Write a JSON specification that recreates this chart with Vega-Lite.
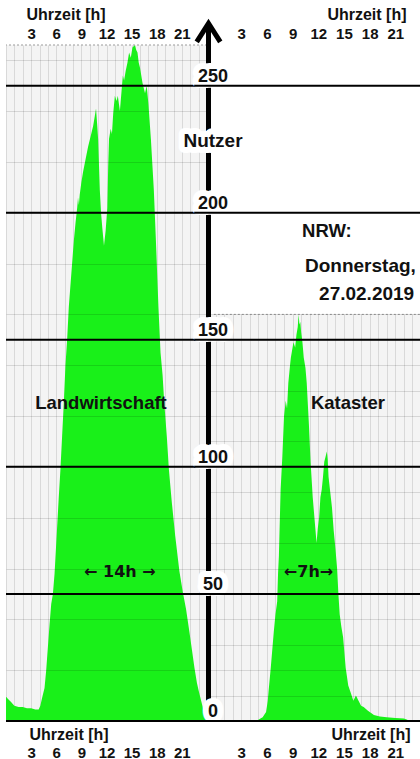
{
  "$schema": "https://vega.github.io/schema/vega-lite/v6.json",
  "background": "white",
  "padding": {"left": 5, "top": 6, "right": 0, "bottom": 0},
  "spacing": 0,
  "bounds": "flush",
  "config": {
    "font": "Liberation Sans",
    "view": {"stroke": null},
    "axis": {
      "domain": false, "ticks": false, "minExtent": 0,
      "labelFontSize": 15, "labelFontWeight": "bold", "labelColor": "#111",
      "titleFontSize": 16, "titleFontWeight": "bold", "titleColor": "#111",
      "labelOverlap": false, "labelFlush": false
    }
  },
  "datasets": {
    "lw": [
      {"h":0,"v":9.5},{"h":0.3,"v":8.5},{"h":0.6,"v":7.5},{"h":1,"v":6},{"h":1.5,"v":5.5},{"h":2,"v":5.5},{"h":2.5,"v":5},{"h":3,"v":5},{"h":3.5,"v":4.5},{"h":3.9,"v":4.5},{"h":4.1,"v":6},{"h":4.3,"v":9},{"h":4.6,"v":13},{"h":4.8,"v":20},{"h":5,"v":29},{"h":5.2,"v":38},{"h":5.4,"v":46},{"h":5.6,"v":50},{"h":5.8,"v":58},{"h":6,"v":70},{"h":6.3,"v":88},{"h":6.5,"v":99},{"h":6.7,"v":112},{"h":6.9,"v":125},{"h":7.1,"v":140},{"h":7.3,"v":150},{"h":7.5,"v":163},{"h":7.8,"v":176},{"h":8.1,"v":189},{"h":8.3,"v":196},{"h":8.5,"v":202},{"h":8.6,"v":206},{"h":8.7,"v":203},{"h":8.8,"v":207},{"h":9,"v":212},{"h":9.2,"v":216},{"h":9.5,"v":221},{"h":9.8,"v":226},{"h":10.1,"v":230},{"h":10.4,"v":234},{"h":10.6,"v":238},{"h":10.75,"v":241},{"h":10.9,"v":234},{"h":11,"v":229},{"h":11.2,"v":209},{"h":11.35,"v":200},{"h":11.5,"v":194},{"h":11.7,"v":187},{"h":11.9,"v":193},{"h":12.1,"v":202},{"h":12.2,"v":218},{"h":12.3,"v":229},{"h":12.5,"v":233},{"h":12.65,"v":231},{"h":12.8,"v":239},{"h":13,"v":246},{"h":13.2,"v":244},{"h":13.35,"v":246},{"h":13.6,"v":240},{"h":13.8,"v":248},{"h":13.95,"v":254},{"h":14.1,"v":252},{"h":14.3,"v":256},{"h":14.5,"v":259},{"h":14.7,"v":263},{"h":14.9,"v":261},{"h":15.1,"v":265},{"h":15.4,"v":266},{"h":15.55,"v":264},{"h":15.7,"v":263},{"h":15.85,"v":259},{"h":16,"v":257},{"h":16.3,"v":251},{"h":16.6,"v":247},{"h":16.8,"v":250},{"h":17,"v":243},{"h":17.3,"v":229},{"h":17.65,"v":209},{"h":17.9,"v":189},{"h":18.2,"v":163},{"h":18.45,"v":145},{"h":18.7,"v":136},{"h":18.9,"v":125},{"h":19.2,"v":112},{"h":19.45,"v":99},{"h":19.8,"v":86},{"h":20.2,"v":73},{"h":20.7,"v":59},{"h":21.1,"v":51},{"h":21.5,"v":44},{"h":21.9,"v":35},{"h":22.2,"v":28},{"h":22.5,"v":21},{"h":22.8,"v":15},{"h":23,"v":12},{"h":23.3,"v":8},{"h":23.6,"v":4},{"h":24,"v":0}
    ],
    "ka": [
      {"h":4.8,"v":0},{"h":5,"v":0.5},{"h":5.5,"v":1.5},{"h":5.9,"v":3.5},{"h":6.1,"v":8},{"h":6.2,"v":12},{"h":6.45,"v":21},{"h":6.8,"v":35},{"h":7,"v":42},{"h":7.2,"v":47},{"h":7.3,"v":58},{"h":7.4,"v":65},{"h":7.6,"v":91},{"h":7.8,"v":104},{"h":8,"v":120},{"h":8.2,"v":126},{"h":8.35,"v":123},{"h":8.5,"v":133},{"h":8.7,"v":140},{"h":8.8,"v":143},{"h":9.1,"v":149},{"h":9.3,"v":147},{"h":9.45,"v":152},{"h":9.6,"v":155},{"h":9.7,"v":160},{"h":9.8,"v":156},{"h":9.9,"v":157},{"h":10,"v":153},{"h":10.15,"v":149},{"h":10.3,"v":143},{"h":10.5,"v":139},{"h":10.65,"v":133},{"h":10.9,"v":117},{"h":11.1,"v":102},{"h":11.35,"v":88},{"h":11.6,"v":78},{"h":11.8,"v":70},{"h":11.95,"v":76},{"h":12.1,"v":80},{"h":12.25,"v":88},{"h":12.4,"v":91},{"h":12.55,"v":96},{"h":12.7,"v":102},{"h":12.85,"v":104},{"h":13,"v":106},{"h":13.1,"v":103},{"h":13.2,"v":96},{"h":13.4,"v":90},{"h":13.6,"v":84},{"h":13.8,"v":75},{"h":14,"v":68},{"h":14.2,"v":60},{"h":14.35,"v":50},{"h":14.5,"v":42},{"h":14.7,"v":37},{"h":14.9,"v":33},{"h":15.05,"v":27},{"h":15.2,"v":21},{"h":15.5,"v":14},{"h":15.8,"v":11},{"h":16.1,"v":8},{"h":16.4,"v":10},{"h":16.7,"v":8},{"h":17,"v":6},{"h":17.3,"v":5.5},{"h":17.8,"v":4},{"h":18.5,"v":2.4},{"h":19.2,"v":1.8},{"h":20,"v":1.5},{"h":21,"v":1.2},{"h":22,"v":1},{"h":22.4,"v":0.5},{"h":22.5,"v":0}
    ],
    "ticks": [{"n":0},{"n":50},{"n":100},{"n":150},{"n":200},{"n":250}]
  },
  "hconcat": [
    {
      "width": 201,
      "height": 676,
      "view": {"fill": "#f4f4f4", "stroke": null},
      "layer": [
        {
          "data": {"name": "lw"},
          "mark": {"type": "area", "color": "#19f019"},
          "encoding": {
            "x": {"field": "h", "type": "quantitative",
              "scale": {"domain": [0, 24], "nice": false},
              "axis": {"orient": "top", "values": [0,1,2,3,4,5,6,7,8,9,10,11,12,13,14,15,16,17,18,19,20,21,22,23,24],
                "labelExpr": "datum.value % 3 === 0 && datum.value > 0 && datum.value < 24 ? datum.label : ''",
                "grid": true, "gridColor": "#d9d9d9", "gridOpacity": 1,
                "labelPadding": 7, "labelBaseline": "alphabetic",
                "title": "Uhrzeit [h]", "titleAlign": "left", "titleAnchor": "start", "titleX": 20, "titleY": -26, "titleBaseline": "alphabetic", "zindex": 0}},
            "y": {"field": "v", "type": "quantitative",
              "scale": {"domain": [0, 266], "nice": false},
              "axis": {"orient": "left", "values": [0,5,10,15,20,25,30,35,40,45,50,55,60,65,70,75,80,85,90,95,100,105,110,115,120,125,130,135,140,145,150,155,160,165,170,175,180,185,190,195,200,205,210,215,220,225,230,235,240,245,250,255,260,265],
                "grid": true, "gridColor": "#000000", "gridOpacity": 0.12, "labels": false, "title": null, "zindex": 1}}
          }
        },
        {
          "data": {"name": "ticks"},
          "mark": {"type": "rule", "color": "#000", "strokeWidth": 2},
          "encoding": {"y": {"field": "n", "type": "quantitative"}}
        },
        {
          "data": {"values": [{}]},
          "mark": {"type": "rule", "color": "#9a9a9a", "strokeDash": [2, 2], "strokeWidth": 1},
          "encoding": {"y": {"datum": 266, "type": "quantitative"}}
        },
        {
          "data": {"values": [{}]},
          "mark": {"type": "text", "text": "Landwirtschaft", "fontSize": 18.5, "fontWeight": "bold", "color": "#111", "align": "center", "baseline": "alphabetic"},
          "encoding": {
            "x": {"datum": 11.34, "type": "quantitative", "axis": null},
            "y": {"datum": 122.8, "type": "quantitative"}
          }
        },
        {
          "data": {"values": [{}]},
          "mark": {"type": "text", "text": "← 14h →", "font": "DejaVu Sans", "fontSize": 16, "fontWeight": "bold", "color": "#111", "align": "center", "baseline": "alphabetic"},
          "encoding": {
            "x": {"datum": 13.6, "type": "quantitative",
              "axis": {"orient": "bottom", "values": [3,6,9,12,15,18,21], "grid": false,
                "labelPadding": 24, "title": "Uhrzeit [h]", "titleAlign": "left", "titleAnchor": "start", "titleX": 23, "titleY": 18, "titleBaseline": "alphabetic"}},
            "y": {"datum": 56.7, "type": "quantitative"}
          }
        }
      ]
    },
    {
      "width": 214,
      "height": 676,
      "view": {"fill": "#f4f4f4", "stroke": null},
      "layer": [
        {
          "data": {"values": [{}]},
          "mark": {"type": "rect", "color": "white"},
          "encoding": {
            "x": {"datum": -1, "type": "quantitative", "axis": null},
            "x2": {"datum": 24},
            "y": {"datum": 160, "type": "quantitative"},
            "y2": {"datum": 266}
          }
        },
        {
          "data": {"name": "ka"},
          "mark": {"type": "area", "color": "#19f019"},
          "encoding": {
            "x": {"field": "h", "type": "quantitative",
              "scale": {"domain": [-1, 24], "nice": false},
              "axis": {"orient": "top", "values": [0,1,2,3,4,5,6,7,8,9,10,11,12,13,14,15,16,17,18,19,20,21,22,23,24],
                "labelExpr": "datum.value % 3 === 0 && datum.value > 0 && datum.value < 24 ? datum.label : ''",
                "grid": true, "gridColor": "#d9d9d9", "gridOpacity": 1,
                "labelPadding": 7, "labelBaseline": "alphabetic",
                "title": "Uhrzeit [h]", "titleAlign": "right", "titleAnchor": "end", "titleX": 199, "titleY": -26, "titleBaseline": "alphabetic", "zindex": 0}},
            "y": {"field": "v", "type": "quantitative",
              "scale": {"domain": [0, 266], "nice": false},
              "axis": {"orient": "left", "values": [0,5,10,15,20,25,30,35,40,45,50,55,60,65,70,75,80,85,90,95,100,105,110,115,120,125,130,135,140,145,150,155,160],
                "grid": true, "gridColor": "#000000", "gridOpacity": 0.12, "labels": false, "title": null, "zindex": 1}}
          }
        },
        {
          "data": {"values": [{}]},
          "mark": {"type": "rule", "color": "#9a9a9a", "strokeDash": [2, 2], "strokeWidth": 1},
          "encoding": {
            "x": {"datum": -0.2, "type": "quantitative", "axis": null},
            "x2": {"datum": 24},
            "y": {"datum": 160, "type": "quantitative"}
          }
        },
        {
          "data": {"values": [{}]},
          "mark": {"type": "rule", "color": "#000", "strokeWidth": 5},
          "encoding": {
            "x": {"datum": -0.825, "type": "quantitative", "axis": null},
            "y": {"datum": 0, "type": "quantitative"},
            "y2": {"datum": 274.5}
          }
        },
        {
          "data": {"values": [{}]},
          "mark": {"type": "point", "shape": "M-0.64,1L0,0L0.64,1", "size": 1354, "filled": false, "stroke": "#000", "strokeWidth": 5, "opacity": 1, "strokeJoin": "miter"},
          "encoding": {
            "x": {"datum": -0.825, "type": "quantitative", "axis": null},
            "y": {"datum": 274.5, "type": "quantitative"}
          }
        },
        {
          "data": {"name": "ticks"},
          "mark": {"type": "text", "fontSize": 18, "fontWeight": "bold", "align": "center", "baseline": "alphabetic", "dy": -4, "fill": "white", "stroke": "white", "strokeWidth": 12, "strokeJoin": "round"},
          "encoding": {
            "x": {"datum": -0.3, "type": "quantitative", "axis": null},
            "y": {"field": "n", "type": "quantitative"},
            "text": {"field": "n", "type": "quantitative"}
          }
        },
        {
          "data": {"values": [{}]},
          "mark": {"type": "text", "text": "Nutzer", "fontSize": 19, "fontWeight": "bold", "align": "center", "baseline": "alphabetic", "fill": "white", "stroke": "white", "strokeWidth": 12, "strokeJoin": "round"},
          "encoding": {
            "x": {"datum": -0.3, "type": "quantitative", "axis": null},
            "y": {"datum": 226, "type": "quantitative"}
          }
        },
        {
          "data": {"name": "ticks"},
          "mark": {"type": "rule", "color": "#000", "strokeWidth": 2},
          "encoding": {
            "x": {"datum": -2.5, "type": "quantitative", "axis": null},
            "x2": {"datum": 24},
            "y": {"field": "n", "type": "quantitative"}
          }
        },
        {
          "data": {"name": "ticks"},
          "mark": {"type": "text", "fontSize": 18, "fontWeight": "bold", "align": "center", "baseline": "alphabetic", "dy": -4, "color": "#111"},
          "encoding": {
            "x": {"datum": -0.3, "type": "quantitative", "axis": null},
            "y": {"field": "n", "type": "quantitative"},
            "text": {"field": "n", "type": "quantitative"}
          }
        },
        {
          "data": {"values": [{}]},
          "mark": {"type": "text", "text": "Nutzer", "fontSize": 19, "fontWeight": "bold", "align": "center", "baseline": "alphabetic", "color": "#111"},
          "encoding": {
            "x": {"datum": -0.3, "type": "quantitative", "axis": null},
            "y": {"datum": 226, "type": "quantitative"}
          }
        },
        {
          "data": {"values": [{}]},
          "mark": {"type": "text", "text": "Kataster", "fontSize": 18.5, "fontWeight": "bold", "color": "#111", "align": "center", "baseline": "alphabetic"},
          "encoding": {
            "x": {"datum": 15.47, "type": "quantitative", "axis": null},
            "y": {"datum": 122.8, "type": "quantitative"}
          }
        },
        {
          "data": {"values": [{}]},
          "mark": {"type": "text", "text": "NRW:", "fontSize": 18.5, "fontWeight": "bold", "color": "#111", "align": "left", "baseline": "alphabetic"},
          "encoding": {
            "x": {"datum": 10.1, "type": "quantitative", "axis": null},
            "y": {"datum": 190.5, "type": "quantitative"}
          }
        },
        {
          "data": {"values": [{}]},
          "mark": {"type": "text", "text": "Donnerstag,", "fontSize": 19, "fontWeight": "bold", "color": "#111", "align": "right", "baseline": "alphabetic"},
          "encoding": {
            "x": {"datum": 23.4, "type": "quantitative", "axis": null},
            "y": {"datum": 176.8, "type": "quantitative"}
          }
        },
        {
          "data": {"values": [{}]},
          "mark": {"type": "text", "text": "27.02.2019", "fontSize": 19, "fontWeight": "bold", "color": "#111", "align": "right", "baseline": "alphabetic"},
          "encoding": {
            "x": {"datum": 23.2, "type": "quantitative", "axis": null},
            "y": {"datum": 165.7, "type": "quantitative"}
          }
        },
        {
          "data": {"values": [{}]},
          "mark": {"type": "text", "text": "←7h→", "font": "DejaVu Sans", "fontSize": 16, "fontWeight": "bold", "color": "#111", "align": "center", "baseline": "alphabetic"},
          "encoding": {
            "x": {"datum": 10.86, "type": "quantitative",
              "axis": {"orient": "bottom", "values": [3,6,9,12,15,18,21], "grid": false,
                "labelPadding": 24, "title": "Uhrzeit [h]", "titleAlign": "right", "titleAnchor": "end", "titleX": 203, "titleY": 18, "titleBaseline": "alphabetic"}},
            "y": {"datum": 56.7, "type": "quantitative"}
          }
        }
      ]
    }
  ]
}
